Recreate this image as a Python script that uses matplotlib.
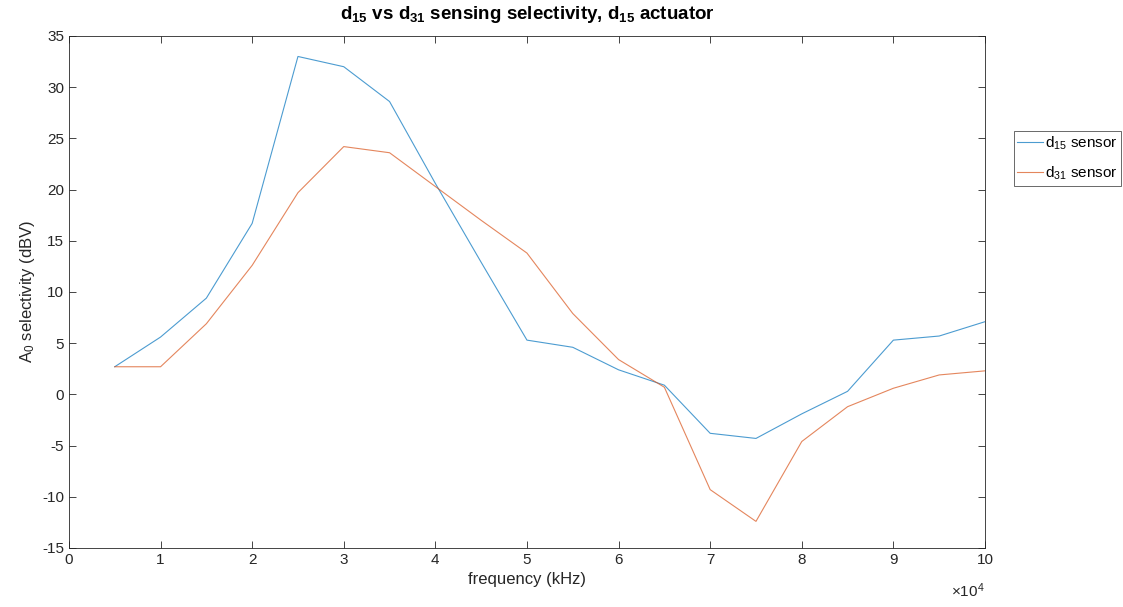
import matplotlib
matplotlib.use("Agg")
import matplotlib.pyplot as plt
import numpy as np

plt.rcParams['font.family'] = ['Liberation Sans', 'DejaVu Sans']
plt.rcParams['mathtext.fontset'] = 'custom'
plt.rcParams['mathtext.rm'] = 'Liberation Sans'
plt.rcParams['mathtext.it'] = 'Liberation Sans:italic'
plt.rcParams['mathtext.bf'] = 'Liberation Sans:bold'
plt.rcParams['axes.unicode_minus'] = False

# frequency samples (Hz) and selectivity (dBV) for each sensor
frequency = [5000, 10000, 15000, 20000, 25000, 30000, 35000, 40000, 45000, 50000,
             55000, 60000, 65000, 70000, 75000, 80000, 85000, 90000, 95000, 100000]
d15_sensor = [2.7, 5.6, 9.4, 16.7, 33.0, 32.0, 28.6, 20.6, 12.9, 5.3,
              4.6, 2.4, 0.9, -3.8, -4.3, -1.9, 0.3, 5.3, 5.7, 7.1]
d31_sensor = [2.7, 2.7, 6.9, 12.6, 19.7, 24.2, 23.6, 20.3, 17.0, 13.8,
              7.9, 3.4, 0.7, -9.3, -12.4, -4.6, -1.2, 0.6, 1.9, 2.3]

x_ticks = np.arange(0, 100001, 10000)
x_tick_labels = [str(i) for i in range(0, 11)]
y_ticks = np.arange(-15, 36, 5)

blue = (0.0, 0.447, 0.741)
orange = (0.850, 0.325, 0.098)
axis_color = (0.15, 0.15, 0.15)

fig = plt.figure(figsize=(11.23, 6.07), dpi=100)
ax = fig.add_axes([0.0614, 0.0972, 0.8157, 0.8435])

ax.plot(frequency, d15_sensor, color=blue, lw=0.8, alpha=0.7, label=r'd$_{15}$ sensor')
ax.plot(frequency, d31_sensor, color=orange, lw=0.8, alpha=0.7, label=r'd$_{31}$ sensor')

ax.set_xlim(0, 100000)
ax.set_ylim(-15, 35)
ax.set_xticks(x_ticks)
ax.set_xticklabels(x_tick_labels)
ax.set_yticks(y_ticks)

for s in ax.spines.values():
    s.set_color(axis_color)
    s.set_linewidth(0.6)
ax.tick_params(direction='in', top=True, right=True, length=5, width=0.6,
               colors=axis_color, labelsize=11, labelcolor=axis_color)

ax.set_xlabel('frequency (kHz)', fontsize=12, color=axis_color, labelpad=4)
ax.set_ylabel(r'A$_0$ selectivity (dBV)', fontsize=12, color=axis_color, labelpad=4)
ax.set_title(r'd$_{\mathbf{15}}$ vs d$_{\mathbf{31}}$ sensing selectivity, d$_{\mathbf{15}}$ actuator',
             fontsize=13.5, fontweight='bold', pad=12)

fig.text(0.877, 0.012, r'$\times$10$^{4}$', ha='right', va='bottom', fontsize=11, color=axis_color)

leg = fig.legend(loc='upper left', bbox_to_anchor=(0.9025, 0.785), fontsize=11,
                 frameon=True, fancybox=False, handlelength=1.7, handletextpad=0.1,
                 borderpad=0.25, labelspacing=0.85, borderaxespad=0)
leg.get_frame().set_edgecolor(axis_color)
leg.get_frame().set_linewidth(0.6)

fig.savefig('out.png', dpi=100)
